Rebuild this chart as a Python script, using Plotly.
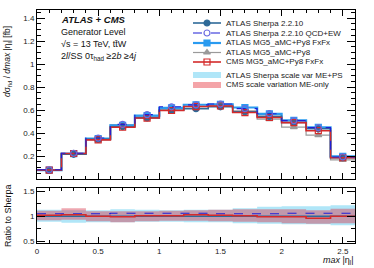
import plotly.graph_objects as go

edges = [0.0, 0.2, 0.4, 0.6, 0.8, 1.0, 1.2, 1.4, 1.6, 1.8, 2.0, 2.2, 2.4, 2.6]
centers = [0.1, 0.3, 0.5, 0.7, 0.9, 1.1, 1.3, 1.5, 1.7, 1.9, 2.1, 2.3, 2.5]

sherpa = [0.076, 0.215, 0.345, 0.455, 0.532, 0.598, 0.612, 0.628, 0.585, 0.545, 0.492, 0.437, 0.186]
sherpa_qcdew = [0.080, 0.224, 0.356, 0.475, 0.560, 0.628, 0.645, 0.652, 0.612, 0.568, 0.508, 0.447, 0.192]
mg5_fxfx = [0.078, 0.220, 0.352, 0.466, 0.552, 0.618, 0.646, 0.650, 0.622, 0.566, 0.510, 0.450, 0.196]
mg5 = [0.075, 0.221, 0.346, 0.470, 0.545, 0.610, 0.632, 0.640, 0.592, 0.520, 0.452, 0.382, 0.166]
cms_fxfx = [0.078, 0.222, 0.340, 0.450, 0.530, 0.596, 0.630, 0.635, 0.578, 0.535, 0.490, 0.420, 0.185]

ratio_sherpa = [1.0] * 13
ratio_qcdew = [1.05, 1.05, 1.05, 1.06, 1.06, 1.06, 1.06, 1.05, 1.05, 1.05, 1.06, 1.06, 1.06]
ratio_cms = [1.02, 1.03, 1.00, 0.99, 1.01, 1.01, 1.03, 1.02, 1.01, 0.99, 0.99, 0.96, 1.00]
sherpa_band_hi = [1.13, 1.12, 1.12, 1.14, 1.13, 1.12, 1.13, 1.13, 1.16, 1.19, 1.20, 1.20, 1.22]
sherpa_band_lo = [0.89, 0.87, 0.88, 0.88, 0.89, 0.89, 0.88, 0.88, 0.86, 0.85, 0.84, 0.84, 0.82]
cms_band_hi = [1.11, 1.16, 1.10, 1.10, 1.10, 1.11, 1.12, 1.13, 1.14, 1.14, 1.14, 1.12, 1.15]
cms_band_lo = [0.92, 0.93, 0.90, 0.88, 0.90, 0.91, 0.91, 0.90, 0.89, 0.88, 0.86, 0.85, 0.86]

legend_labels = ["ATLAS Sherpa 2.2.10", "ATLAS Sherpa 2.2.10 QCD+EW", "ATLAS MG5_aMC+Py8 FxFx",
                 "ATLAS MG5_aMC+Py8", "CMS MG5_aMC+Py8 FxFx",
                 "ATLAS Sherpa scale var ME+PS", "CMS scale variation ME-only"]

C_SH = "#2e6a98"
C_EW = "#1f1fd6"
C_EWM = "#6a6ae0"
C_FX = "#2a9bf0"
C_MG = "#9a9a9a"
C_CMS = "#d42a2a"
C_BAND_SH = "#b0e6f8"
C_BAND_CMS = "rgba(215,60,80,0.45)"

FONT = "Liberation Sans, Arial, sans-serif"

# plot area in pixels
L, R, T, B = 37, 355, 10, 243
def px(x):
    return (x - L) / (R - L)
def py(y):
    return (B - y) / (B - T)

fig = go.Figure()

def step(vals):
    return list(vals) + [vals[-1]]

def add_series(vals, color, width, dash, symbol, msize, mcolor, xa="x", ya="y", markers=True, mline=1.2):
    fig.add_trace(go.Scatter(x=edges, y=step(vals), mode="lines", line=dict(color=color, width=width, dash=dash, shape="hv"),
                             xaxis=xa, yaxis=ya, showlegend=False, hoverinfo="skip"))
    if markers:
        fig.add_trace(go.Scatter(x=centers, y=vals, mode="markers",
                                 marker=dict(symbol=symbol, size=msize, color=mcolor, line=dict(color=mcolor, width=mline)),
                                 xaxis=xa, yaxis=ya, showlegend=False, hoverinfo="skip"))

# main panel
add_series(mg5, C_MG, 1.2, "solid", "triangle-up", 6, C_MG)
add_series(mg5_fxfx, C_FX, 2.2, "solid", "square", 6, C_FX)
add_series(sherpa, C_SH, 1.6, "solid", "circle", 6, C_SH)
add_series(cms_fxfx, C_CMS, 1.6, "solid", "square-open", 6, C_CMS)
add_series(sherpa_qcdew, C_EW, 1.1, "dash", "circle-open", 6, C_EWM)

# ratio bands
def band(lo, hi, fillcolor):
    fig.add_trace(go.Scatter(x=edges, y=step(lo), mode="lines", line=dict(width=0, shape="hv"),
                             xaxis="x2", yaxis="y2", showlegend=False, hoverinfo="skip"))
    fig.add_trace(go.Scatter(x=edges, y=step(hi), mode="lines", line=dict(width=0, shape="hv"),
                             fill="tonexty", fillcolor=fillcolor,
                             xaxis="x2", yaxis="y2", showlegend=False, hoverinfo="skip"))

band(sherpa_band_lo, sherpa_band_hi, C_BAND_SH)
band(cms_band_lo, cms_band_hi, C_BAND_CMS)
add_series(ratio_sherpa, C_SH, 1.6, "solid", None, 0, C_SH, "x2", "y2", markers=False)
add_series(ratio_qcdew, C_EW, 1.1, "dash", None, 0, C_EW, "x2", "y2", markers=False)
add_series(ratio_cms, C_CMS, 1.6, "solid", None, 0, C_CMS, "x2", "y2", markers=False)

# manual legend on an overlay pixel-like axis
rows = [23, 33, 43, 52.5, 62, 75, 85]
styles = [
    (C_SH, 1.6, "solid", "circle", C_SH),
    (C_EW, 1.1, "dash", "circle-open", C_EWM),
    (C_FX, 2.2, "solid", "square", C_FX),
    (C_MG, 1.2, "solid", "triangle-up", C_MG),
    (C_CMS, 1.6, "solid", "square-open", C_CMS),
]
for r, (c, w, d, s, mc) in zip(rows[:5], styles):
    fig.add_trace(go.Scatter(x=[193, 221], y=[r, r], mode="lines", line=dict(color=c, width=w, dash=d),
                             xaxis="x3", yaxis="y3", showlegend=False, hoverinfo="skip"))
    fig.add_trace(go.Scatter(x=[207], y=[r], mode="markers", marker=dict(symbol=s, size=6, color=mc, line=dict(color=mc, width=1.2)),
                             xaxis="x3", yaxis="y3", showlegend=False, hoverinfo="skip"))
for r, fc in zip(rows[5:], [C_BAND_SH, "#f4a4a8"]):
    fig.add_shape(type="rect", xref="paper", yref="paper", x0=px(193), x1=px(221), y0=py(r + 3), y1=py(r - 3),
                  fillcolor=fc, line=dict(width=0), layer="above")
for r, lab in zip(rows, legend_labels):
    fig.add_annotation(x=px(224), y=py(r), xref="paper", yref="paper", text=lab, showarrow=False,
                       xanchor="left", yanchor="middle", font=dict(size=8, color="#222", family=FONT))

# plot labels
lab_lines = [
    (20, "<b><i>ATLAS + CMS</i></b>", 9.5),
    (32.5, "Generator Level", 9),
    (44, "√s = 13 TeV, tt̄W", 9),
    (56, "2<i>l</i>/SS 0τ<sub>had</sub> ≥2<i>b</i> ≥4<i>j</i>", 9),
]
for y, t, s in lab_lines:
    fig.add_annotation(x=px(59), y=py(y), xref="paper", yref="paper", text=t, showarrow=False,
                       xanchor="left", yanchor="middle", font=dict(size=s, color="#111", family=FONT))

fig.add_annotation(x=px(356), y=py(260), xref="paper", yref="paper", text="<i>max</i> |η<sub>l</sub>|", showarrow=False,
                   xanchor="right", yanchor="middle", font=dict(size=9, color="#111", family=FONT))
fig.add_annotation(x=px(8), y=py(62), xref="paper", yref="paper",
                   text="<i>d</i>σ<sub>fid</sub> / <i>dmax</i> |η<sub>l</sub>| [fb]", showarrow=False,
                   textangle=-90, xanchor="center", yanchor="middle", font=dict(size=8.5, color="#111", family=FONT))
fig.add_annotation(x=px(8), y=py(216), xref="paper", yref="paper", text="Ratio to Sherpa", showarrow=False,
                   textangle=-90, xanchor="center", yanchor="middle", font=dict(size=9, color="#111", family=FONT))

axis_common = dict(showline=True, linecolor="black", linewidth=1, mirror="ticks", ticks="inside",
                   tickcolor="black", showgrid=False, zeroline=False,
                   tickfont=dict(size=8, color="#222", family=FONT))

H_TOT = float(B - T)
fig.update_layout(
    width=374, height=268,
    margin=dict(l=L, r=374 - R, t=T, b=268 - B),
    paper_bgcolor="white", plot_bgcolor="rgba(0,0,0,0)",
    xaxis=dict(domain=[0, 1], range=[0, 2.6], anchor="y", tickvals=[0, 0.5, 1, 1.5, 2, 2.5],
               showticklabels=False, ticklen=6,
               minor=dict(dtick=0.1, tick0=0, ticklen=3, ticks="inside", tickcolor="black", showgrid=False),
               **axis_common),
    yaxis=dict(domain=[(B - 179) / H_TOT, 1], range=[0, 1.47], anchor="x",
               tickvals=[0.2, 0.4, 0.6, 0.8, 1.0, 1.2, 1.4], ticktext=["0.2", "0.4", "0.6", "0.8", "1", "1.2", "1.4"],
               ticklen=8,
               minor=dict(dtick=0.05, tick0=0, ticklen=4, ticks="inside", tickcolor="black", showgrid=False),
               **axis_common),
    xaxis2=dict(domain=[0, 1], range=[0, 2.6], anchor="y2", tickvals=[0, 0.5, 1, 1.5, 2, 2.5],
                ticktext=["0", "0.5", "1", "1.5", "2", "2.5"], ticklen=6,
                minor=dict(dtick=0.1, tick0=0, ticklen=3, ticks="inside", tickcolor="black", showgrid=False),
                **axis_common),
    yaxis2=dict(domain=[0, (B - 188) / H_TOT], range=[0.47, 1.56], anchor="x2",
                tickvals=[0.5, 1, 1.5], ticktext=["0.5", "1", "1.5"], ticklen=8,
                minor=dict(dtick=0.25, tick0=0, ticklen=4, ticks="inside", tickcolor="black", showgrid=False),
                **axis_common),
    xaxis3=dict(domain=[0, 1], range=[L, R], anchor="y3", visible=False, fixedrange=True),
    yaxis3=dict(domain=[0, 1], range=[B, T], anchor="x3", visible=False, fixedrange=True),
    showlegend=False,
)

fig.write_html("out.html", config={"displayModeBar": False},
               post_script="document.body.style.margin='0px';document.body.style.overflow='hidden';")
